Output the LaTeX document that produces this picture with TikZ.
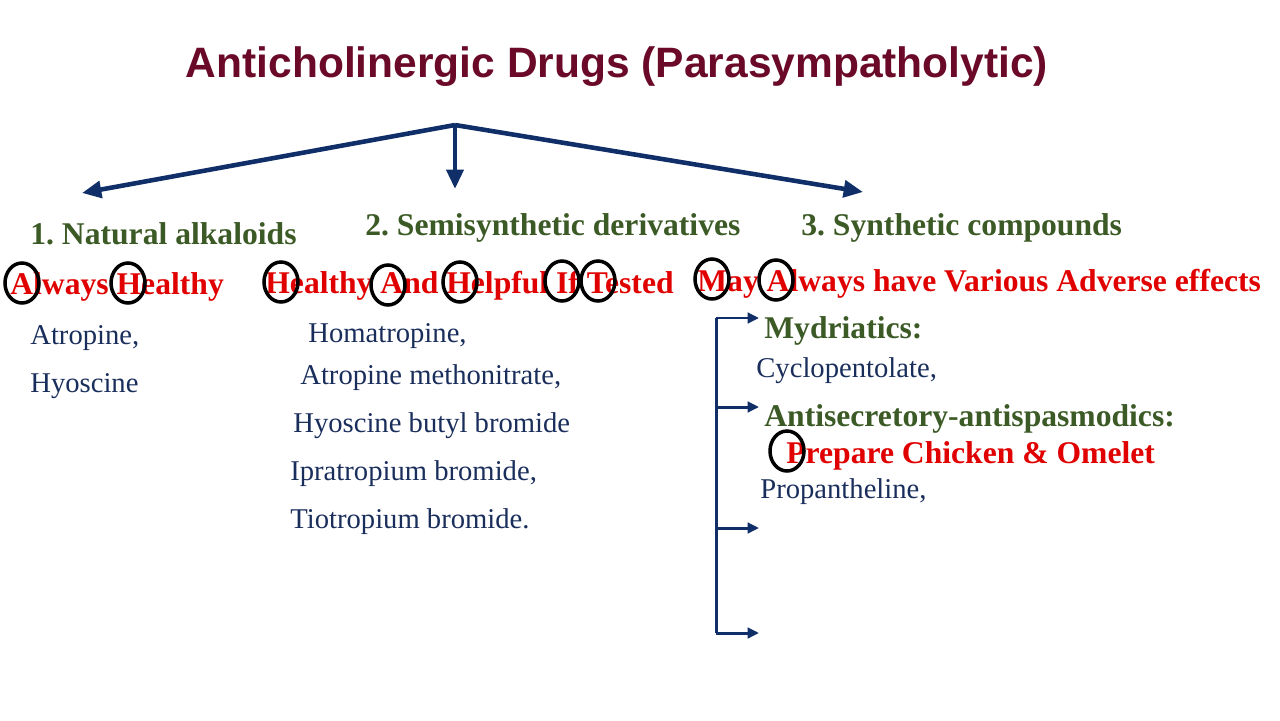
\documentclass[tikz,border=0pt]{standalone}
\usepackage{fontspec}
\usetikzlibrary{arrows.meta}
\setmainfont{Liberation Serif}
\newfontfamily\titlefont{Liberation Sans}
\frenchspacing
\definecolor{titlered}{HTML}{6A0A28}
\definecolor{headgreen}{HTML}{3B5A25}
\definecolor{drugblue}{HTML}{1A2E5C}
\definecolor{arrowblue}{HTML}{102E68}
\definecolor{mnemred}{HTML}{E00000}
\tikzset{
  title/.style={text=titlered, font=\titlefont\bfseries\fontsize{24.2}{28}\selectfont},
  head/.style={anchor=west, inner sep=0pt, text=headgreen, font=\bfseries\fontsize{18}{21}\selectfont},
  mnem/.style={anchor=west, inner sep=0pt, text=mnemred, font=\bfseries\fontsize{18}{21}\selectfont},
  drug/.style={anchor=west, inner sep=0pt, text=drugblue, font=\fontsize{16.3}{19}\selectfont},
  branch/.style={draw=arrowblue, line width=2.6pt, -{Triangle[length=11pt,width=9.5pt]}},
  subarrow/.style={draw=arrowblue, line width=1.7pt, -{Triangle[length=6.5pt,width=6pt]}},
  ring/.style={draw=black, line width=2pt}
}
\begin{document}
\begin{tikzpicture}[x=0.02cm, y=-0.02cm]
	\useasboundingbox (0,0) rectangle (1280,720);
	\node [title] (title) at (617,67) {Anticholinergic Drugs (Parasympatholytic)};
	% main branches
	\coordinate (apex) at (455,125);
	\coordinate (left) at (82,193);
	\coordinate (mid) at (455,189);
	\coordinate (right) at (863,192);
	\draw [branch] (apex) -- (left);
	\draw [branch] (apex) -- (mid);
	\draw [branch] (apex) -- (right);
	\node [head] (natural) at (30,234) {1. Natural alkaloids};
	\node [head] (semi) at (365,228) {2. Semisynthetic derivatives};
	\node [head] (synth) at (801,228) {3. Synthetic compounds};
	% mnemonics
	\node [mnem] (mnema) at (10,287) {Always Healthy};
	\node [mnem] (mnemb) at (265,286) {Healthy And Helpful If Tested};
	\node [mnem] (mnemc) at (697,284) {May Always have Various Adverse effects};
	% drugs
	\node [drug] (atropine) at (30,338) {Atropine,};
	\node [drug] (hyoscine) at (30,386) {Hyoscine};
	\node [drug] (homatropine) at (308,336) {Homatropine,};
	\node [drug] (methonitrate) at (300,378) {Atropine methonitrate,};
	\node [drug] (butyl) at (293,426) {Hyoscine butyl bromide};
	\node [drug] (ipratropium) at (290,474) {Ipratropium bromide,};
	\node [drug] (tiotropium) at (290,522) {Tiotropium bromide.};
	% synthetic groups
	\coordinate (trunktop) at (716,318);
	\coordinate (trunkbot) at (716,633);
	\draw [draw=arrowblue, line width=1.7pt] (trunktop) -- (trunkbot);
	\foreach \y/\tip in {318/tipa, 407/tipb, 528/tipc, 633/tipd} {
		\coordinate (\tip) at (759,\y);
		\draw [subarrow] (716,\y) -- (\tip);
	}
	\node [head] (mydriatics) at (764,331) {Mydriatics:};
	\node [drug] (cyclopentolate) at (756,371) {Cyclopentolate,};
	\node [head] (antisec) at (764,419) {Antisecretory-antispasmodics:};
	\node [mnem] (mnemd) at (786,456) {Prepare Chicken \& Omelet};
	\node [drug] (propantheline) at (760,492) {Propantheline,};
	% circled letters
	\foreach \x/\y in {22/283, 128/283, 281/282, 388/285, 460/282, 562/281, 598/281, 712/279, 776/280, 787/451}
		\draw [ring] (\x,\y) ellipse (17 and 20);
\end{tikzpicture}
\end{document}
